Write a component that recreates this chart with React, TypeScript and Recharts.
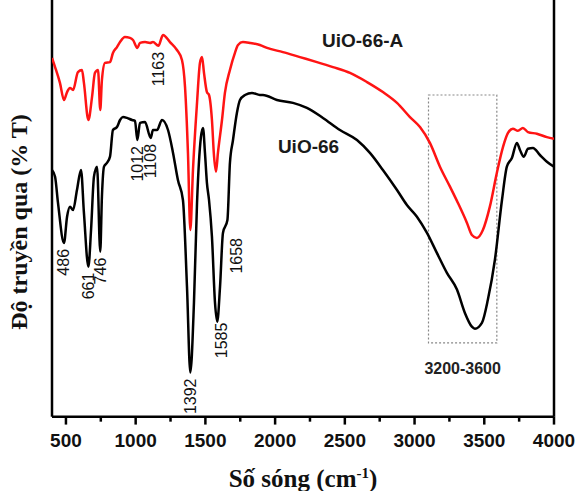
import { LineChart, Line, XAxis, YAxis, ReferenceLine, ReferenceArea, ReferenceDot } from "recharts"

// UiO-66 spectrum: wavenumber (cm-1) / transmittance
const uioWavenumber = [
  400, 422, 443, 486, 508, 529, 551, 579, 608, 629, 661, 680, 701, 723, 746, 758, 773, 794, 816, 837,
  866, 888, 909, 938, 974, 995, 1012, 1031, 1067, 1108, 1124, 1153, 1189, 1232, 1268, 1303, 1339, 1368, 1392, 1418,
  1440, 1468, 1483, 1497, 1511, 1526, 1547, 1569, 1585, 1605, 1626, 1658, 1676, 1698, 1726, 1748, 1784, 1834, 1891, 1913,
  2013, 2128, 2228, 2343, 2465, 2587, 2680, 2773, 2874, 2945, 3017, 3089, 3160, 3232, 3304, 3361, 3411, 3433, 3483, 3526,
  3576, 3627, 3662, 3698, 3734, 3756, 3784, 3813, 3849, 3899, 3949, 4000,
]
const uioTransmittance = [
  59.2, 57.6, 51.3, 41.7, 48.0, 50.4, 49.6, 54.4, 59.2, 48.9, 36.0, 44.8, 57.6, 60.0, 39.6, 52.8, 60.0, 60.9, 62.4, 68.8,
  69.5, 71.2, 71.9, 71.7, 71.2, 71.0, 66.4, 70.5, 70.7, 66.9, 68.8, 68.8, 71.2, 68.8, 63.3, 56.8, 52.0, 31.2, 10.6, 27.3,
  51.3, 67.1, 69.3, 63.3, 56.1, 52.0, 43.2, 27.3, 22.8, 31.2, 44.1, 47.2, 60.9, 66.4, 72.9, 76.0, 77.2, 77.7, 77.2, 77.2,
  76.0, 75.3, 74.1, 71.7, 68.8, 66.4, 63.3, 59.2, 54.4, 50.8, 48.0, 44.1, 39.3, 34.5, 30.5, 24.9, 21.6, 21.1, 22.5, 28.1,
  37.6, 52.0, 60.0, 62.1, 65.7, 64.0, 62.4, 64.3, 64.5, 62.8, 61.2, 60.0,
]

// UiO-66-A spectrum
const uioAWavenumber = [
  400, 422, 457, 486, 508, 529, 551, 586, 615, 629, 661, 687, 708, 730, 746, 758, 780, 816, 837, 866,
  888, 923, 959, 981, 1012, 1031, 1067, 1103, 1124, 1163, 1196, 1246, 1296, 1332, 1354, 1375, 1392, 1411, 1440, 1461,
  1476, 1490, 1511, 1526, 1547, 1562, 1576, 1590, 1619, 1640, 1676, 1712, 1734, 1769, 1820, 1891, 1942, 2056, 2178, 2300,
  2415, 2537, 2659, 2773, 2874, 2967, 3039, 3110, 3182, 3254, 3311, 3376, 3411, 3447, 3490, 3540, 3590, 3634, 3670, 3705,
  3741, 3777, 3813, 3877, 3949, 4000,
]
const uioATransmittance = [
  86.1, 83.9, 80.1, 76.0, 77.9, 78.9, 78.4, 82.7, 83.2, 80.1, 71.2, 76.7, 82.5, 83.2, 73.6, 80.8, 84.9, 85.1, 87.3, 88.7,
  89.9, 91.1, 90.9, 90.4, 88.5, 89.7, 89.9, 89.7, 89.9, 89.0, 91.6, 89.9, 88.0, 85.6, 79.1, 63.3, 44.8, 59.2, 75.3, 84.9,
  86.3, 82.5, 77.9, 77.2, 71.2, 62.5, 58.8, 63.3, 71.2, 77.7, 83.2, 87.3, 89.2, 89.9, 89.7, 89.2, 88.5, 87.5, 86.3, 85.1,
  83.9, 82.5, 80.3, 77.9, 75.3, 71.9, 69.5, 65.7, 60.0, 55.2, 51.3, 46.5, 43.6, 42.9, 44.8, 50.4, 58.5, 64.7, 68.1, 69.1,
  68.6, 69.3, 68.3, 67.9, 67.1, 66.7,
]

const majorTicks = [500, 1000, 1500, 2000, 2500, 3000, 3500, 4000]
const minorTicks = [750, 1250, 1750, 2250, 2750, 3250, 3750]

// band positions marked on each spectrum
const uioBands = [486, 661, 746, 1012, 1108, 1392, 1585, 1658]
const uioABands = [1163]

// O-H stretching region
const ohRegion = [3100, 3590]
const ohLabel = "3200-3600"

const uio = uioWavenumber.map((wn, i) => ({ wn, t: uioTransmittance[i] }))
const uioA = uioAWavenumber.map((wn, i) => ({ wn, t: uioATransmittance[i] }))

const sans = "Arial, 'Liberation Sans', sans-serif"
const serif = "'Times New Roman', 'Liberation Serif', serif"

// a couple of band labels sit a bit off the minimum
const bandShift: Record<number, { dx: number; dy: number }> = {
  1585: { dx: 4, dy: 1 },
  1658: { dx: 9, dy: 18 },
}

// the plot runs a little below T = 0 so the outward tick marks live inside it;
// the visible axis line is drawn at T = 0
function WaveTick({ x, y, payload }: any) {
  return (
    <text x={x} y={y + 22} textAnchor="middle" fontSize={19} fontWeight="bold" fontFamily={sans} fill="#111">
      {payload.value}
    </text>
  )
}

function bandLabel(wn: number) {
  return ({ viewBox }: any) => {
    const shift = bandShift[wn] ?? { dx: 0, dy: 6 }
    const x = viewBox.x + viewBox.width / 2 + shift.dx
    const y = viewBox.y + viewBox.height / 2 + shift.dy
    return (
      <text
        x={x}
        y={y}
        transform={`rotate(-90, ${x}, ${y})`}
        textAnchor="end"
        dominantBaseline="central"
        fontSize={16}
        fontFamily={sans}
        fill="#111"
      >
        {wn}
      </text>
    )
  }
}

function nameLabel(text: string) {
  return ({ viewBox }: any) => (
    <text x={viewBox.x} y={viewBox.y} fontSize={19} fontWeight="bold" fontFamily={sans} fill="#1a1a1a">
      {text}
    </text>
  )
}

function valueAt(wns: number[], ts: number[], wn: number) {
  return ts[wns.indexOf(wn)]
}

export default function App() {
  return (
    <div style={{ position: "absolute", left: 0, top: 0, width: 579, height: 491, background: "#fff" }}>
      <LineChart width={579} height={491} margin={{ top: 0, right: 25, bottom: 0, left: 52 }}>
        <XAxis
          dataKey="wn"
          type="number"
          domain={[400, 4000]}
          ticks={majorTicks}
          interval={0}
          minTickGap={0}
          tick={<WaveTick />}
          tickLine={false}
          tickSize={0}
          tickMargin={0}
          axisLine={false}
          height={66}
          allowDataOverflow
        />
        <YAxis type="number" domain={[-2, 100]} hide allowDataOverflow />

        {/* frame: bottom axis at T = 0, sides up to the top */}
        <ReferenceLine segment={[{ x: 400, y: 0 }, { x: 4000, y: 0 }]} stroke="#000" strokeWidth={2.5} />
        <ReferenceLine segment={[{ x: 400, y: 0 }, { x: 400, y: 100 }]} stroke="#000" strokeWidth={2.5} />
        <ReferenceLine segment={[{ x: 4000, y: 0 }, { x: 4000, y: 100 }]} stroke="#000" strokeWidth={2.5} />

        {majorTicks.map((wn) => (
          <ReferenceLine key={wn} segment={[{ x: wn, y: 0 }, { x: wn, y: -1.9 }]} stroke="#000" strokeWidth={2.5} />
        ))}
        {minorTicks.map((wn) => (
          <ReferenceLine key={wn} segment={[{ x: wn, y: 0 }, { x: wn, y: -1.2 }]} stroke="#000" strokeWidth={2.5} />
        ))}

        <ReferenceArea
          x1={ohRegion[0]}
          x2={ohRegion[1]}
          y1={17.7}
          y2={77.2}
          fill="none"
          stroke="#888"
          strokeWidth={1.2}
          strokeDasharray="2 2"
          label={{ value: ohLabel, position: "bottom", offset: 20, fontSize: 16, fontWeight: "bold", fontFamily: sans, fill: "#222" }}
        />

        <Line data={uioA} dataKey="t" type="monotone" stroke="#ff1414" strokeWidth={2.5} dot={false} isAnimationActive={false} />
        <Line data={uio} dataKey="t" type="monotone" stroke="#000" strokeWidth={2.5} dot={false} isAnimationActive={false} />

        {uioBands.map((wn) => (
          <ReferenceDot key={wn} x={wn} y={valueAt(uioWavenumber, uioTransmittance, wn)} r={0} fill="none" stroke="none" label={{ content: bandLabel(wn) }} />
        ))}
        {uioABands.map((wn) => (
          <ReferenceDot key={wn} x={wn} y={valueAt(uioAWavenumber, uioATransmittance, wn)} r={0} fill="none" stroke="none" label={{ content: bandLabel(wn) }} />
        ))}

        <ReferenceDot x={2336} y={88.7} r={0} fill="none" stroke="none" label={{ content: nameLabel("UiO-66-A") }} />
        <ReferenceDot x={2020} y={63.3} r={0} fill="none" stroke="none" label={{ content: nameLabel("UiO-66") }} />

        <text x={303} y={487} textAnchor="middle" fontSize={25} fontWeight="bold" fontFamily={serif} fill="#111">
          Số sóng (cm<tspan dy={-9} fontSize={15}>-1</tspan><tspan dy={9}>)</tspan>
        </text>
        <text
          x={19}
          y={222}
          transform="rotate(-90, 19, 222)"
          textAnchor="middle"
          dominantBaseline="central"
          fontSize={24}
          fontWeight="bold"
          fontFamily={serif}
          fill="#111"
        >
          Độ truyền qua (% T)
        </text>
      </LineChart>
    </div>
  )
}
